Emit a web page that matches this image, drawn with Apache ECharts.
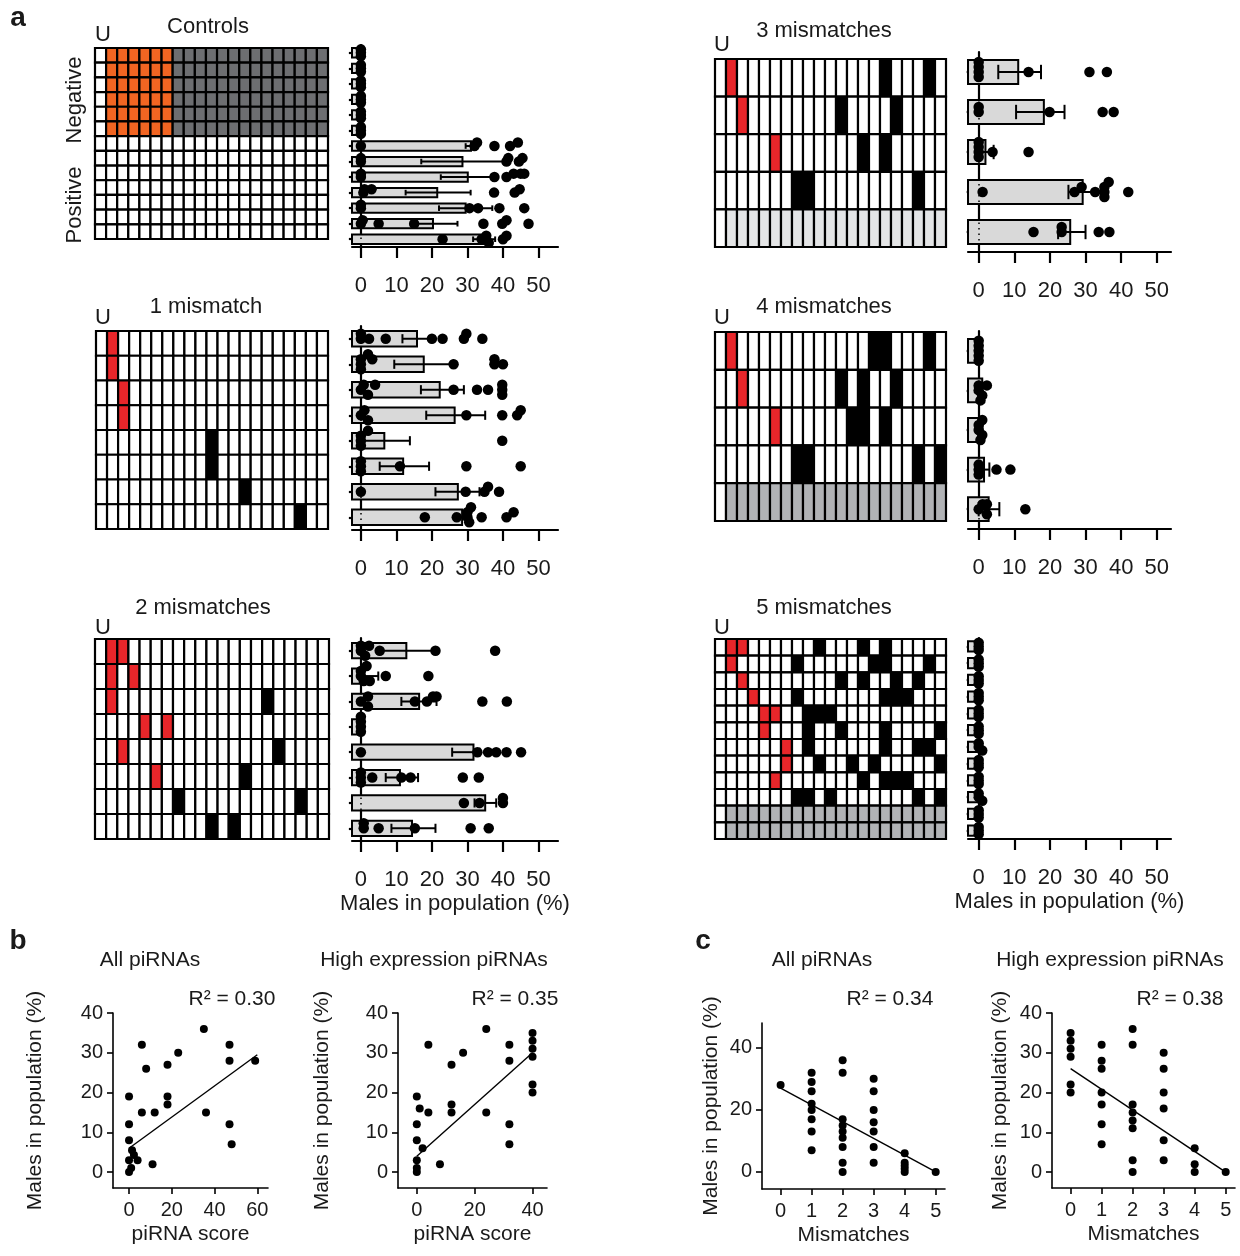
<!DOCTYPE html>
<html><head><meta charset="utf-8">
<script src="https://cdn.jsdelivr.net/npm/echarts@6/dist/echarts.min.js"></script>
<style>html,body{margin:0;padding:0;background:#fff}#c{width:1240px;height:1256px}</style>
</head><body><div id="c"></div>
<script>
// ---------------- DATA ----------------
const columnLabels = ['U','1','2','3','4','5','6','7','8','9','10','11','12','13','14','15','16','17','18','19','20'];
const barTicks = [0,10,20,30,40,50];

// Controls grid rows: W white, O orange (seed), G grey
const controlsCells = [
  'WOOOOOOGGGGGGGGGGGGGG','WOOOOOOGGGGGGGGGGGGGG','WOOOOOOGGGGGGGGGGGGGG',
  'WOOOOOOGGGGGGGGGGGGGG','WOOOOOOGGGGGGGGGGGGGG','WOOOOOOGGGGGGGGGGGGGG',
  'WWWWWWWWWWWWWWWWWWWWW','WWWWWWWWWWWWWWWWWWWWW','WWWWWWWWWWWWWWWWWWWWW',
  'WWWWWWWWWWWWWWWWWWWWW','WWWWWWWWWWWWWWWWWWWWW','WWWWWWWWWWWWWWWWWWWWW',
  'WWWWWWWWWWWWWWWWWWWWW'
];
// mismatch positions (column index), red = seed mismatches, black = other
const mm1Red   = [[1],[1],[2],[2],[],[],[],[]];
const mm1Black = [[],[],[],[],[10],[10],[13],[18]];
const mm1Shade = ['W','W','W','W','W','W','W','W'];

const mm2Red   = [[1,2],[1,3],[1],[4,6],[2],[5],[],[]];
const mm2Black = [[],[],[15],[],[16],[13],[7,18],[10,12]];
const mm2Shade = ['W','W','W','W','W','W','W','W'];

const mm3Red   = [[1],[2],[5],[],[]];
const mm3Black = [[15,19],[11,16],[13,15],[7,8,18],[]];
const mm3Shade = ['W','W','W','W','L'];

const mm4Red   = [[1],[2],[5],[],[]];
const mm4Black = [[14,15,19],[11,13,16],[12,13,15],[7,8,18,20],[]];
const mm4Shade = ['W','W','W','W','M'];

const mm5Red   = [[1,2],[1],[2],[3],[4,5],[4],[6],[6],[5],[],[],[]];
const mm5Black = [[9,13,15],[7,14,15,19],[11,13,16,18],[7,15,16,17],[8,9,10],[8,11,15,20],[8,15,18,19],[9,12,14,20],[13,15,16,17],[7,8,10,18,20],[],[]];
const mm5Shade = ['W','W','W','W','W','W','W','W','W','W','M','M'];

// bar panels: mean, error low, error high, individual points (% males)
const ctrlMean = [0,0,0,0,0,0,31,28.6,30.1,21.5,29.5,20.3,34.5];
const ctrlLow  = [0,0,0,0,0,0,29.5,17,22.5,12.6,22,14.9,31.6];
const ctrlHigh = [0,0,0,0,0,0,32.5,40.2,37.6,30.9,37,27.2,37.8];
const ctrlDots = [[0,0,0],[0,0,0],[0,0,0],[0,0,0],[0,0,0],[0,0,0],
  [0,32,32.7,37.6,42,44.2],[0,0,41,41.5,44.5,45.5],[0,0,37.6,41,43,45,46],
  [0.7,1,3,37.5,43.3,44.7],[0,0,30.6,33,39,46],[0,0.5,5,15,34.5,39.8,41,47.2],[23,34,35.3,36,40,41]];

const mm1Mean = [15.8,17.7,22.2,26.4,6.6,11.9,27.3,28.5];
const mm1Low  = [11.7,9.4,16.9,18.4,0,5.3,21,26.5];
const mm1High = [20,26,29,35,13.8,19.2,33.4,30.5];
const mm1Dots = [[0,0,2.3,7,20,23,29,29.7,34.2],[0,0,0,2,3.2,26.1,37.6,37.6,40],
  [0,0.8,2,4,26.1,32.7,35.8,39.8,39.8,39.8],[0,1,2,29.7,39.8,44,45],[0,0,0,2,39.8],
  [0,0,0,11,29.7,45],[0,29.5,34.8,35.8,38.9],[18,27,30,30,30.5,31,34,41,43]];

const mm2Mean = [12.8,0.7,16.4,0.5,31.7,11,35,14.4];
const mm2Low  = [5.3,0,11.4,0,25.7,7,32,8.6];
const mm2High = [21,4.9,21.3,0.5,33.4,16.1,38.1,21];
const mm2Dots = [[0,0,1.2,2.3,5.3,21,37.8],[0,0,0.8,1.6,2.5,7,19],[0,2,2,15.2,18.6,20.3,21.3,34.2,41.1],
  [0,0,0,0],[0,32.8,35.8,38.1,41,45.1],[0,0,0,3.2,11.4,14,28.7,33.2],[29,33.4,40,40],[0.8,0.8,5,15.2,30.9,36]];

const mm3Mean = [11.1,18.3,1.9,29.2,25.7];
const mm3Low  = [5.5,10.5,0,25.2,22.3];
const mm3High = [17.5,24.1,4.2,35.3,30];
const mm3Dots = [[0,0,0,0,14,31.1,36],[0,0,19.9,34.8,37.9],[0,0,0,0,3.9,14],
  [1.1,26.9,28.9,32.7,35.3,35.3,35.3,36.5,42],[15.4,23.3,23.3,33.7,36.7]];

const mm4Mean = [0.5,1,1,1.5,2.8];
const mm4Low  = [0,0,0,0,0];
const mm4High = [0.5,1,1,3,5.8];
const mm4Dots = [[0,0,0,0,0],[0,0,1,2.3,0.5],[0,0,1,1,0.5],[0,0,0,5,8.9],[0,1.1,2.3,2.3,13.1]];

const mm5Mean = [0,0,0,0,0,0,0,0,0,0,0,0];
const mm5Low  = [0,0,0,0,0,0,0,0,0,0,0,0];
const mm5High = [0,0,0,0,0,0,0,0,0,0,0,0];
const mm5Dots = [[0,0,0],[0,0,0],[0,0,0],[0,0,0],[0,0,0],[0,0,0],[0,0,1],[0,0,0],[0,0,0],[0,0,1],[0,0,0],[0,0,0]];

// b: piRNA score vs males (%)
const bAllPts = [[0,0],[1,1],[0,3],[1.4,5.5],[0,8],[0,12],[0,19],[2.3,4.3],[4,3],[6,32],[8,26],[6,15],
  [11,2],[12,15],[18,27],[18,19],[18,17],[23,30],[35,36],[36,15],[47,32],[47,28],[47,12],[48,7],[59,28]];
const bAllFit = [[0,6],[60,29.5]];
const bHighPts = [[0,0],[0,1],[0,3],[0,8],[0,12],[0,19],[1,16],[2,6],[4,32],[8,2],[4,15],[12,15],[12,17],
  [12,27],[16,30],[24,36],[24,15],[32,32],[32,12],[32,7],[32,28],[40,35],[40,33],[40,31],[40,29],[40,22],[40,20]];
const bHighFit = [[0,4],[40,30]];
// c: mismatches vs males (%)
const cAllPts = [[0,28],[1,32],[1,29],[1,26],[1,22],[1,20],[1,17],[1,13],[1,7],
  [2,36],[2,32],[2,17],[2,15],[2,13],[2,11],[2,8],[2,3],[2,0],
  [3,30],[3,26],[3,20],[3,16],[3,13],[3,8],[3,3],[4,6],[4,3],[4,2],[4,1],[4,0],[5,0]];
const cAllFit = [[0,27],[5,0]];
const cHighPts = [[0,35],[0,33],[0,31],[0,29],[0,22],[0,20],[1,32],[1,28],[1,26],[1,20],[1,17],[1,12],[1,7],
  [2,36],[2,32],[2,17],[2,15],[2,13],[2,11],[2,3],[2,0],[3,30],[3,26],[3,20],[3,16],[3,8],[3,3],[4,6],[4,2],[4,0],[5,0]];
const cHighFit = [[0,26],[5,0]];

// ---------------- BUILD ----------------
const FONT = '"Liberation Sans", Arial, Helvetica, sans-serif';
const TXT = '#1a1a1a';
const CELL_COLORS = { W:'#ffffff', R:'#e8262a', O:'#f26522', K:'#000000', G:'#6d6e71', L:'#e4e5e6', M:'#b1b3b6' };
const CODE_KEYS = Object.keys(CELL_COLORS);

const grids=[], xAxes=[], yAxes=[], series=[], graphics=[];
function addGrid(b){ grids.push({left:b.l, top:b.t, width:b.w, height:b.h}); return grids.length-1; }

function mismatchRows(red, black, shade){
  return shade.map((s,r)=>{
    const arr = columnLabels.map((_,c)=> c===0 ? 'W' : s);
    red[r].forEach(c=>arr[c]='R');
    black[r].forEach(c=>arr[c]='K');
    return arr.join('');
  });
}

function addCellPanel(rows, box){
  const g = addGrid(box);
  xAxes.push({gridIndex:g, type:'category', data:columnLabels, show:false});
  yAxes.push({gridIndex:g, type:'category', data:rows.map((_,i)=>String(i)), inverse:true, show:false});
  const xi=xAxes.length-1, yi=yAxes.length-1;
  const data=[];
  rows.forEach((row,r)=>{ for(let c=0;c<row.length;c++) data.push([c,r,CODE_KEYS.indexOf(row[c])]); });
  series.push({type:'custom', xAxisIndex:xi, yAxisIndex:yi, data, encode:{x:0,y:1}, silent:true,
    renderItem:(p,api)=>{
      const pt=api.coord([api.value(0),api.value(1)]), s=api.size([1,1]);
      return {type:'rect', shape:{x:pt[0]-s[0]/2, y:pt[1]-s[1]/2, width:s[0], height:s[1]},
        style:{fill:CELL_COLORS[CODE_KEYS[api.value(2)]], stroke:'#000', lineWidth:2.2}};
    }});
}

function addBarPanel(mean, low, high, dots, box, xmin, xmax, axisName){
  const g = addGrid(box);
  xAxes.push({gridIndex:g, type:'value', min:xmin, max:xmax,
    axisLine:{show:true,onZero:false,lineStyle:{color:'#000',width:2.2}},
    axisTick:{show:true, customValues:barTicks, length:11, lineStyle:{color:'#000',width:2.2}},
    axisLabel:{customValues:barTicks, fontSize:22, margin:28, color:TXT, fontFamily:FONT},
    splitLine:{show:false},
    name:axisName||'', nameLocation:'middle', nameGap:52,
    nameTextStyle:{fontSize:22, color:TXT, fontFamily:FONT}});
  yAxes.push({gridIndex:g, type:'category', data:mean.map((_,i)=>String(i+1)), inverse:true,
    axisLine:{show:true,lineStyle:{color:'#000',width:2.2}},
    axisTick:{show:true, alignWithLabel:true, interval:0, length:12, lineStyle:{color:'#000',width:2.2}},
    axisLabel:{show:false}, splitLine:{show:false}});
  const xi=xAxes.length-1, yi=yAxes.length-1;
  series.push({type:'custom', xAxisIndex:xi, yAxisIndex:yi, silent:true, z:3,
    data: mean.map((m,i)=>[m, low[i], high[i], i]),
    encode:{x:[0,1,2], y:3},
    renderItem:(p,api)=>{
      const m=api.value(0), l=api.value(1), h=api.value(2), r=api.value(3);
      const b=api.coord([xmin,r]), e=api.coord([m,r]), pl=api.coord([l,r]), ph=api.coord([h,r]);
      const band=api.size([0,1])[1], bh=band*0.6, ch=bh*0.6, y=b[1];
      const kids=[{type:'rect', shape:{x:b[0], y:y-bh/2, width:e[0]-b[0], height:bh},
        style:{fill:'#d9d9d9', stroke:'#000', lineWidth:2}}];
      if(h-l>0.3){
        const ls={stroke:'#000', lineWidth:2};
        kids.push({type:'line', shape:{x1:pl[0],y1:y,x2:ph[0],y2:y}, style:ls});
        kids.push({type:'line', shape:{x1:pl[0],y1:y-ch/2,x2:pl[0],y2:y+ch/2}, style:ls});
        kids.push({type:'line', shape:{x1:ph[0],y1:y-ch/2,x2:ph[0],y2:y+ch/2}, style:ls});
      }
      return {type:'group', children:kids};
    }});
  // beeswarm-like vertical spreading of overlapping dots
  const ppu = box.w/(xmax-xmin), band = box.h/mean.length, k = Math.min(band*0.22, 5);
  const steps=[0,-1,1,-2,2,-3,3];
  const dotData=[];
  dots.forEach((row,r)=>{
    const placed=[];
    row.forEach(v=>{
      let n=0; placed.forEach(q=>{ if(Math.abs(q-v)*ppu<8) n++; });
      placed.push(v);
      dotData.push({value:[v,r], symbolOffset:[0, steps[Math.min(n,6)]*k]});
    });
  });
  series.push({type:'scatter', xAxisIndex:xi, yAxisIndex:yi, data:dotData, symbol:'circle', symbolSize:10.5,
    itemStyle:{color:'#000', opacity:1}, z:5, silent:true,
    markLine:{silent:true, symbol:['none','none'], label:{show:false}, animation:false,
      lineStyle:{type:[1.5,4], color:'#000', width:1.5}, data:[{xAxis:0}]}});
}

function addScatterPanel(pts, fit, box, xr, yr, xt, yt, xName, yGap){
  const g = addGrid(box);
  xAxes.push({gridIndex:g, type:'value', min:xr[0], max:xr[1],
    axisLine:{show:true,onZero:false,lineStyle:{color:'#000',width:1.6}},
    axisTick:{show:true, customValues:xt, length:6, lineStyle:{color:'#000',width:1.6}},
    axisLabel:{customValues:xt, fontSize:20, margin:12, color:TXT, fontFamily:FONT},
    splitLine:{show:false}, name:xName, nameLocation:'middle', nameGap:36,
    nameTextStyle:{fontSize:21, color:TXT, fontFamily:FONT}});
  yAxes.push({gridIndex:g, type:'value', min:yr[0], max:yr[1],
    axisLine:{show:true,onZero:false,lineStyle:{color:'#000',width:1.6}},
    axisTick:{show:true, customValues:yt, length:6, lineStyle:{color:'#000',width:1.6}},
    axisLabel:{customValues:yt, fontSize:20, margin:10, color:TXT, fontFamily:FONT},
    splitLine:{show:false}, name:'Males in population (%)', nameLocation:'middle', nameGap:yGap, nameRotate:90,
    nameTextStyle:{fontSize:21, color:TXT, fontFamily:FONT}});
  const xi=xAxes.length-1, yi=yAxes.length-1;
  series.push({type:'scatter', xAxisIndex:xi, yAxisIndex:yi, data:pts, symbolSize:8, itemStyle:{color:'#000', opacity:1}, silent:true, z:4});
  series.push({type:'line', xAxisIndex:xi, yAxisIndex:yi, data:fit, symbol:'none', silent:true,
    lineStyle:{color:'#000', width:1.4}, z:3});
}

function txt(text, x, y, size, opts){
  opts = opts||{};
  graphics.push({type:'text', x, y, rotation:opts.rot||0, silent:true, z:10,
    style:{text, fill:TXT, font:(opts.bold?'bold ':'')+size+'px '+FONT,
      align:'center', verticalAlign:'middle', textAlign:'center', textVerticalAlign:'middle'}});
}

// Panel a: grids
addCellPanel(controlsCells, {l:95, t:48, w:233, h:191});
addCellPanel(mismatchRows(mm1Red, mm1Black, mm1Shade), {l:96, t:331, w:232, h:198});
addCellPanel(mismatchRows(mm2Red, mm2Black, mm2Shade), {l:95, t:639, w:234, h:200});
addCellPanel(mismatchRows(mm3Red, mm3Black, mm3Shade), {l:715, t:59, w:231, h:188});
addCellPanel(mismatchRows(mm4Red, mm4Black, mm4Shade), {l:715, t:332, w:231, h:189});
addCellPanel(mismatchRows(mm5Red, mm5Black, mm5Shade), {l:715, t:639, w:231, h:200});

// Panel a: bars
addBarPanel(ctrlMean, ctrlLow, ctrlHigh, ctrlDots, {l:352, t:45, w:206, h:202}, -2.5, 55.5);
addBarPanel(mm1Mean, mm1Low, mm1High, mm1Dots, {l:352, t:326, w:206, h:204}, -2.5, 55.5);
addBarPanel(mm2Mean, mm2Low, mm2High, mm2Dots, {l:352, t:638, w:206, h:203}, -2.5, 55.5, 'Males in population (%)');
addBarPanel(mm3Mean, mm3Low, mm3High, mm3Dots, {l:968, t:52, w:203, h:200}, -3, 54);
addBarPanel(mm4Mean, mm4Low, mm4High, mm4Dots, {l:968, t:331, w:203, h:198}, -3, 54);
addBarPanel(mm5Mean, mm5Low, mm5High, mm5Dots, {l:968, t:638, w:203, h:201}, -3, 54, 'Males in population (%)');

// Panels b, c
addScatterPanel(bAllPts, bAllFit, {l:113, t:1013, w:155, h:175}, [-7.5,65], [-4,40], [0,20,40,60], [0,10,20,30,40], 'piRNA score', 67);
addScatterPanel(bHighPts, bHighFit, {l:398, t:1013, w:149, h:175}, [-6.5,45], [-4,40], [0,20,40], [0,10,20,30,40], 'piRNA score', 65);
addScatterPanel(cAllPts, cAllFit, {l:762, t:1023, w:183, h:166}, [-0.6,5.3], [-5.5,48], [0,1,2,3,4,5], [0,20,40], 'Mismatches', 40);
addScatterPanel(cHighPts, cHighFit, {l:1052, t:1013, w:183, h:175}, [-0.6,5.3], [-4,40], [0,1,2,3,4,5], [0,10,20,30,40], 'Mismatches', 41);

// Texts
txt('a', 18, 18, 28, {bold:true});
txt('b', 18, 941, 28, {bold:true});
txt('c', 703, 941, 28, {bold:true});
txt('Controls', 208, 27, 22);
txt('U', 103, 35, 22);
txt('Negative', 75, 100, 22, {rot:Math.PI/2});
txt('Positive', 75, 205, 22, {rot:Math.PI/2});
txt('1 mismatch', 206, 307, 22);
txt('U', 103, 318, 22);
txt('2 mismatches', 203, 608, 22);
txt('U', 103, 628, 22);
txt('3 mismatches', 824, 31, 22);
txt('U', 722, 45, 22);
txt('4 mismatches', 824, 307, 22);
txt('U', 722, 318, 22);
txt('5 mismatches', 824, 608, 22);
txt('U', 722, 628, 22);
txt('All piRNAs', 150, 960, 21);
txt('High expression piRNAs', 434, 960, 21);
txt('All piRNAs', 822, 960, 21);
txt('High expression piRNAs', 1110, 960, 21);
txt('R\u00B2 = 0.30', 232, 999, 21);
txt('R\u00B2 = 0.35', 515, 999, 21);
txt('R\u00B2 = 0.34', 890, 999, 21);
txt('R\u00B2 = 0.38', 1180, 999, 21);

const chart = echarts.init(document.getElementById('c'));
chart.setOption({animation:false, backgroundColor:'#fff', grid:grids, xAxis:xAxes, yAxis:yAxes, series, graphic:graphics});
</script></body></html>
